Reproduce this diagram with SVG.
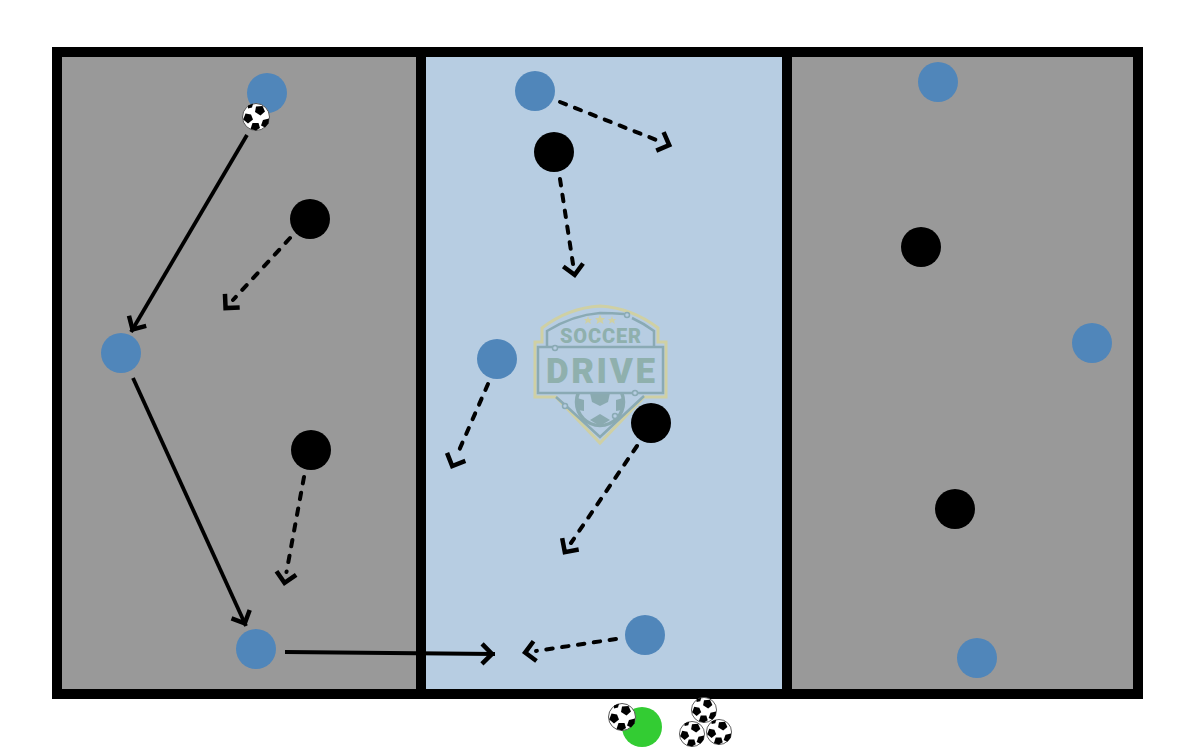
<svg xmlns="http://www.w3.org/2000/svg" width="1200" height="750" viewBox="0 0 1200 750">
<style>
.zone{stroke:none}
.wall{fill:none;stroke:#000;stroke-width:10}
.blue{fill:#5086ba}
.blk{fill:#000}
.run{fill:none;stroke:#000;stroke-width:3.800}
.dash{stroke-dasharray:6.500 9.500;stroke-linecap:round;stroke-width:4}
.logo-text{font-family:Roboto,"Liberation Sans",sans-serif;font-weight:900;fill:#8fb0ad;text-anchor:middle}
.tan{fill:none;stroke:#cfd0a4;stroke-width:3}
.teal{fill:none;stroke:#8aaab4;stroke-width:2.500}
.pent{fill:#8aaab0}
</style>
<defs>
<marker id="solid" markerUnits="userSpaceOnUse" markerWidth="30" markerHeight="30" refX="15" refY="12" orient="auto" overflow="visible">
<path d="M2 2L12 12L2 22" fill="none" stroke="#000" stroke-width="4.500"/>
</marker>
<marker id="gap" markerUnits="userSpaceOnUse" markerWidth="30" markerHeight="30" refX="1" refY="12" orient="auto" overflow="visible">
<path d="M2 2L12 12L2 22" fill="none" stroke="#000" stroke-width="4.500"/>
</marker>
<clipPath id="below"><rect x="570" y="393" width="60" height="40"/></clipPath>
<g id="ball">
<circle r="13.500" fill="#fff" stroke="#555" stroke-width="1"/>
<polygon points="0,-10.500 6.500,-11 9,-5.500 4.500,-1.500 -1,-5" fill="#000"/>
<polygon points="-10.500,-3.500 -5,-2.500 -3,2.500 -8,6.500 -12.800,2.500" fill="#000"/>
<polygon points="-3.500,6 2.500,6 4,11 0,13.500 -5.500,12" fill="#000"/>
<polygon points="7,3 13,1.500 12.500,6.500 9,10.500 5,8.500" fill="#000"/>
<polygon points="-8,-11.500 -3,-13.200 -4,-9.500 -8,-8.500" fill="#000"/>
</g>
</defs>
<rect width="1200" height="750" fill="#fff"/>
<rect class="zone" x="57" y="52" width="364" height="642" fill="#999"/>
<rect class="zone" x="421" y="52" width="366" height="642" fill="#b7cde2"/>
<rect class="zone" x="787" y="52" width="351" height="642" fill="#999"/>
<g id="logo">
<path class="tan" d="M600 306Q632 308 658 328V342H666V397H644L600 443L556 397H535V342H542V328Q568 308 600 306Z"/>
<path class="teal" d="M624 314Q612 313 600 313Q573 315 547 331V347M654 347V331Q643 323 632 318M556 397L565 405L600 437L644 396"/>
<g clip-path="url(#below)">
<circle cx="600" cy="402" r="23.500" fill="none" stroke="#8aaab0" stroke-width="3.500"/>
<polygon class="pent" points="590,393 610,393 608,402 600,406 592,402"/>
<polygon class="pent" points="590,420 600,414 610,420 600,426"/>
<polygon class="pent" points="577,398 584,400 584,411 578,410"/>
<polygon class="pent" points="623,398 616,400 616,411 622,410"/>
</g>
<rect x="538" y="347" width="125" height="46" fill="none" stroke="#8aaab4" stroke-width="2.500"/>
<g fill="#b7cde2" stroke="#8aaab4" stroke-width="1.500">
<circle cx="627" cy="315" r="2.500"/><circle cx="555" cy="348" r="2.500"/><circle cx="635" cy="393" r="2.500"/><circle cx="565" cy="406" r="2.500"/><circle cx="615" cy="416" r="2.500"/>
</g>
<g fill="#cfd0a4">
<polygon points="588,316 589,319 592,319 590,321 591,324 588,322 585,324 586,321 584,319 587,319"/>
<polygon points="600,314.500 601.500,318 605,318 602.500,320.500 603.500,324 600,322 596.500,324 597.500,320.500 595,318 598.500,318"/>
<polygon points="612,316 613,319 616,319 614,321 615,324 612,322 609,324 610,321 608,319 611,319"/>
</g>
<text class="logo-text" x="600.500" y="343" font-size="20" textLength="81">SOCCER</text>
<text class="logo-text" x="600.500" y="383" font-size="35" textLength="109">DRIVE</text>
</g>
<g id="walls">
<rect class="wall" x="57" y="52" width="1081" height="642"/>
<line class="wall" x1="421" y1="52" x2="421" y2="694"/>
<line class="wall" x1="787" y1="52" x2="787" y2="694"/>
</g>
<g id="connectors">
<path class="run" marker-end="url(#solid)" d="M247 135L131 332"/>
<path class="run" marker-end="url(#solid)" d="M133 378L246 626"/>
<path class="run" marker-end="url(#solid)" d="M285 652L495 654"/>
<path class="run dash" marker-end="url(#gap)" d="M290 238L233 300"/>
<path class="run dash" marker-end="url(#gap)" d="M304 477L286.500 572"/>
<path class="run dash" marker-end="url(#gap)" d="M560 102L659 141"/>
<path class="run dash" marker-end="url(#gap)" d="M560 179L573 264"/>
<path class="run dash" marker-end="url(#gap)" d="M488 384L456.600 456"/>
<path class="run dash" marker-end="url(#gap)" d="M637 446L571 543"/>
<path class="run dash" marker-end="url(#gap)" d="M616 639L536 651"/>
</g>
<g id="node-blue-1"><circle class="blue" cx="267" cy="93" r="20"/></g>
<g id="node-ball-1"><use href="#ball" transform="translate(256,117)"/></g>
<g id="node-blue-2"><circle class="blue" cx="121" cy="353" r="20"/></g>
<g id="node-blue-3"><circle class="blue" cx="256" cy="649" r="20"/></g>
<g id="node-blue-4"><circle class="blue" cx="535" cy="91" r="20"/></g>
<g id="node-blue-5"><circle class="blue" cx="497" cy="359" r="20"/></g>
<g id="node-blue-6"><circle class="blue" cx="645" cy="635" r="20"/></g>
<g id="node-blue-7"><circle class="blue" cx="938" cy="82" r="20"/></g>
<g id="node-blue-8"><circle class="blue" cx="1092" cy="343" r="20"/></g>
<g id="node-blue-9"><circle class="blue" cx="977" cy="658" r="20"/></g>
<g id="node-black-1"><circle class="blk" cx="310" cy="219" r="20"/></g>
<g id="node-black-2"><circle class="blk" cx="311" cy="450" r="20"/></g>
<g id="node-black-3"><circle class="blk" cx="554" cy="152" r="20"/></g>
<g id="node-black-4"><circle class="blk" cx="651" cy="423" r="20"/></g>
<g id="node-black-5"><circle class="blk" cx="921" cy="247" r="20"/></g>
<g id="node-black-6"><circle class="blk" cx="955" cy="509" r="20"/></g>
<g id="node-coach"><circle cx="642" cy="727" r="20" fill="#33cc33"/></g>
<g id="node-ball-2"><use href="#ball" transform="translate(622,717)"/></g>
<g id="node-ball-3"><use href="#ball" transform="translate(704,710) scale(0.93)"/></g>
<g id="node-ball-4"><use href="#ball" transform="translate(692,734) scale(0.93)"/></g>
<g id="node-ball-5"><use href="#ball" transform="translate(719,732) scale(0.93)"/></g>
</svg>
